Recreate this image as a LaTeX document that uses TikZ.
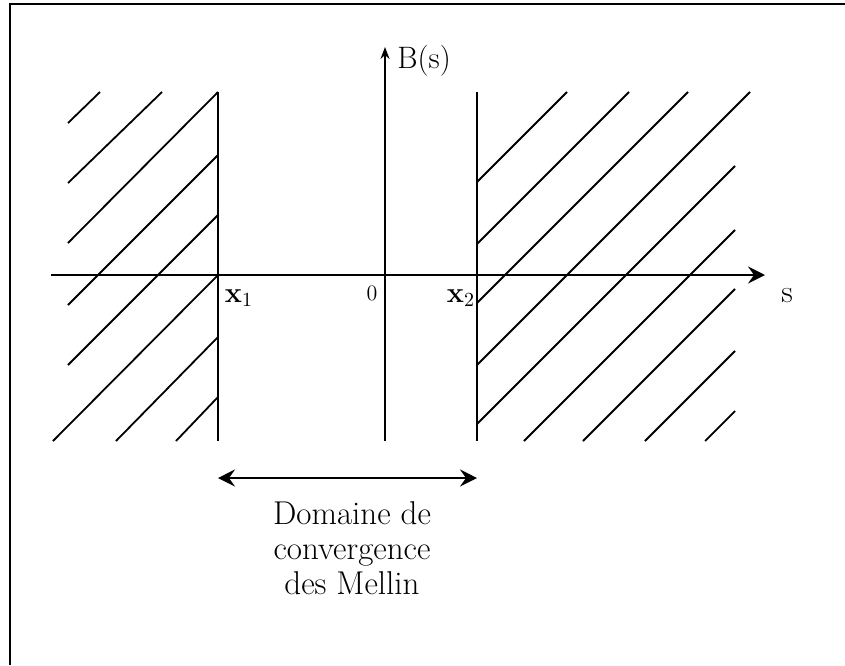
\documentclass[tikz,border=0pt]{standalone}
\usetikzlibrary{arrows.meta}
\tikzset{ax/.style={line width=0.9pt},
  lbl/.style={inner sep=0pt,font=\fontsize{14.5}{16}\selectfont},
  mtip/.tip={Stealth[length=8.5pt,width=8.5pt,inset=3pt]}}
\begin{document}
\begin{tikzpicture}[x=0.5pt,y=-0.5pt]
\useasboundingbox (0,0) rectangle (845,665);
\draw[line width=0.7pt] (10,665)--(10,4)--(845,4);
% axes
\coordinate (ox) at (51,275);\coordinate (ex) at (765,275);
\coordinate (oy) at (385,441);\coordinate (ey) at (385,47);
\draw[ax,-mtip] (ox)--(ex);
\draw[ax,-{Stealth[length=6pt,width=4.5pt,inset=2pt]}] (oy)--(ey);
\foreach \n/\x in {1/218,2/477}{\coordinate (t\n) at (\x,92);\coordinate (b\n) at (\x,441);\draw[ax] (t\n)--(b\n);}
% hatching
\foreach \a/\b/\c/\d in {68/123/100/92,68/183/162/92,68/243/218/92,68/305/218/155,68/365/218/215,53/441/218/275,116/441/218/337,176/441/218/397,
  477/182/567/92,477/244/629/92,477/303/688/92,477/365/750/92,477/424/735/166,524/441/735/230,583/441/735/289,645/441/735/351,705/441/735/411}
  {\draw[ax] (\a,\b)--(\c,\d);}
% labels
\node[lbl,anchor=west,font=\fontsize{15.5}{17}\selectfont] (bs) at (397,61) {B(s)};
\node[lbl,font=\fontsize{16}{17}\selectfont] (s) at (787,296) {s};
\node[lbl] (x1) at (239,298) {$\mathbf{x}_1$};
\node[lbl,font=\fontsize{11}{13}\selectfont] (zero) at (372,293) {0};
\node[lbl] (x2) at (461,298) {$\mathbf{x}_2$};
\coordinate (d1) at (218,478);\coordinate (d2) at (477,478);
\draw[ax,mtip-mtip] (d1)--(d2);
\node[align=center,inner sep=0pt,font=\fontsize{16.5}{17.5}\selectfont] (dom) at (352,548) {Domaine de\\convergence\\des Mellin};
\end{tikzpicture}
\end{document}
